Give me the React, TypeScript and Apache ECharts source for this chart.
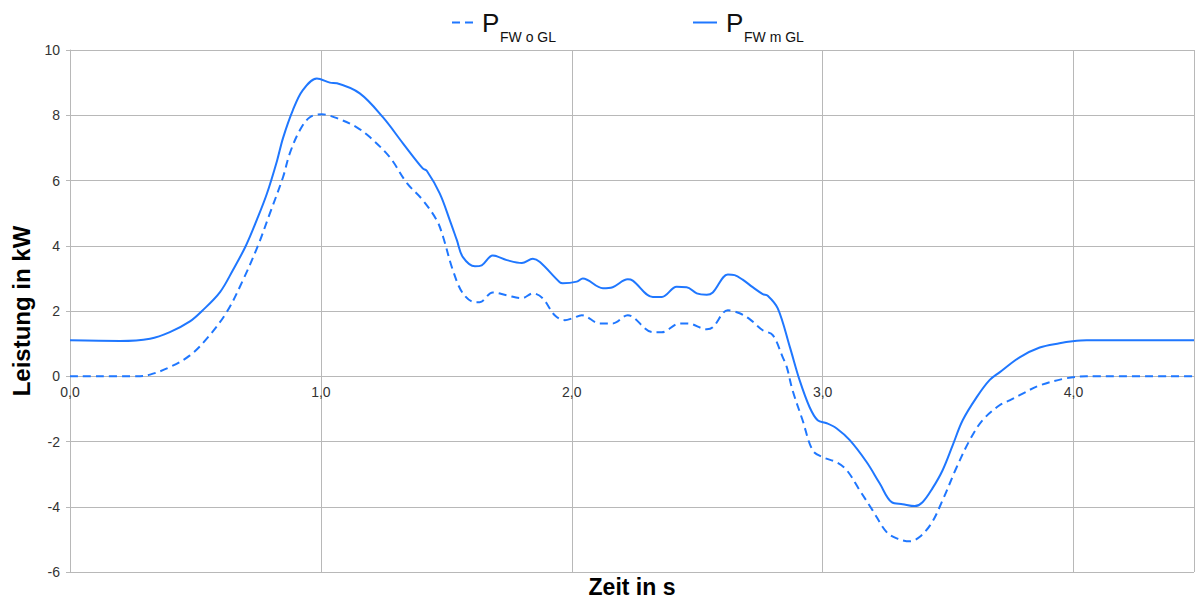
import React, { useEffect, useRef } from "react";
import * as echarts from "echarts";

const xTicks = [0, 1, 2, 3, 4];
const yTicks = [-6, -4, -2, 0, 2, 4, 6, 8, 10];

// P_FW m GL (solid): [time s, power kW]
const withGL: [number, number][] = [
  [0, 1.1], [0.2, 1.08], [0.319, 1.15], [0.398, 1.35], [0.478, 1.68], [0.526, 2.0],
  [0.598, 2.58], [0.649, 3.25], [0.701, 4.0], [0.745, 4.8], [0.785, 5.6], [0.825, 6.6],
  [0.849, 7.3], [0.888, 8.15], [0.928, 8.77], [0.984, 9.13], [1.036, 9.0], [1.064, 8.98],
  [1.155, 8.67], [1.247, 7.94], [1.327, 7.14], [1.406, 6.37], [1.422, 6.3], [1.474, 5.6],
  [1.514, 4.78], [1.542, 4.17], [1.566, 3.65], [1.614, 3.37], [1.641, 3.4], [1.685, 3.7],
  [1.741, 3.56], [1.801, 3.47], [1.845, 3.6], [1.873, 3.5], [1.952, 2.88], [1.964, 2.85],
  [2.02, 2.9], [2.044, 3.0], [2.124, 2.7], [2.163, 2.73], [2.223, 2.97], [2.243, 2.93],
  [2.323, 2.43], [2.359, 2.43], [2.418, 2.74], [2.458, 2.73], [2.498, 2.54], [2.538, 2.5],
  [2.562, 2.57], [2.622, 3.12], [2.649, 3.1], [2.681, 2.96], [2.721, 2.73], [2.761, 2.52],
  [2.781, 2.47], [2.821, 2.08], [2.869, 0.9], [2.908, -0.12], [2.948, -0.95], [2.98, -1.35],
  [3.016, -1.44], [3.056, -1.6], [3.108, -1.96], [3.175, -2.63], [3.227, -3.28], [3.275, -3.86],
  [3.319, -3.92], [3.367, -3.98], [3.398, -3.86], [3.438, -3.43], [3.478, -2.88], [3.518, -2.12],
  [3.558, -1.35], [3.614, -0.64], [3.665, -0.12], [3.705, 0.12], [3.785, 0.58], [3.865, 0.88],
  [3.944, 1.01], [3.996, 1.07], [4.052, 1.1], [4.48, 1.1],
];

// P_FW o GL (dashed): [time s, power kW]
const withoutGL: [number, number][] = [
  [0, 0], [0.279, 0], [0.319, 0.05], [0.398, 0.28], [0.478, 0.64], [0.546, 1.16],
  [0.625, 1.97], [0.689, 2.94], [0.749, 4.0], [0.797, 5.0], [0.849, 6.1], [0.876, 6.83],
  [0.916, 7.54], [0.956, 7.94], [1.004, 8.03], [1.064, 7.91], [1.143, 7.63], [1.195, 7.33],
  [1.275, 6.71], [1.343, 5.92], [1.406, 5.4], [1.462, 4.78], [1.486, 4.3], [1.526, 3.25],
  [1.566, 2.54], [1.614, 2.27], [1.633, 2.27], [1.685, 2.57], [1.741, 2.48], [1.801, 2.39],
  [1.845, 2.54], [1.884, 2.39], [1.932, 1.87], [1.972, 1.72], [2.004, 1.78], [2.04, 1.87],
  [2.112, 1.62], [2.163, 1.62], [2.223, 1.87], [2.323, 1.35], [2.359, 1.35], [2.43, 1.62],
  [2.462, 1.62], [2.538, 1.44], [2.562, 1.5], [2.622, 2.02], [2.669, 1.93], [2.709, 1.75],
  [2.761, 1.41], [2.801, 1.26], [2.841, 0.58], [2.857, 0.28], [2.88, -0.43], [2.92, -1.35],
  [2.96, -2.27], [3.0, -2.48], [3.056, -2.64], [3.096, -2.88], [3.147, -3.49], [3.199, -4.11],
  [3.255, -4.78], [3.295, -4.97], [3.347, -5.06], [3.386, -4.93], [3.434, -4.5], [3.478, -3.8],
  [3.534, -2.79], [3.586, -1.96], [3.637, -1.35], [3.705, -0.89], [3.745, -0.74], [3.785, -0.58],
  [3.865, -0.28], [3.972, -0.06], [4.052, 0], [4.48, 0],
];

const seriesNames = ["P_FW o GL", "P_FW m GL"];
const legendSubs = ["FW o GL", "FW m GL"];

const LINE_COLOR = "#1f77ff";
const GRID_COLOR = "#b8b8b8";
const FONT = "'Liberation Sans', Arial, sans-serif";

export default function App() {
  const ref = useRef<HTMLDivElement>(null);
  useEffect(() => {
    document.body.style.margin = "0";
    const chart = echarts.init(ref.current!, null, { renderer: "svg" });
    const legendItem = (x: number, dashed: boolean, sub: string) => ({
      type: "group",
      x,
      y: 0,
      children: [
        {
          type: "line",
          shape: dashed ? { x1: 0, y1: 22.5, x2: 21, y2: 22.5 } : { x1: 0, y1: 22.5, x2: 24, y2: 22.5 },
          style: { stroke: LINE_COLOR, lineWidth: 2, lineDash: dashed ? [8, 5] : null },
        },
        {
          type: "text",
          x: dashed ? 30 : 33,
          y: 23,
          style: { text: "P", fontSize: 26, fill: "#111", fontFamily: FONT, verticalAlign: "middle" },
        },
        {
          type: "text",
          x: dashed ? 48 : 51,
          y: 37,
          style: { text: sub, fontSize: 14, fill: "#111", fontFamily: FONT, verticalAlign: "middle" },
        },
      ],
    });
    chart.setOption({
      animation: false,
      backgroundColor: "#ffffff",
      textStyle: { fontFamily: FONT },
      grid: { left: 70, right: 2, top: 50, bottom: 28, containLabel: false, outerBoundsMode: "none" },
      xAxis: {
        type: "value",
        min: 0,
        max: 4.48,
        interval: 1,
        position: "bottom",
        offset: -196,
        axisLine: { onZero: false, lineStyle: { color: GRID_COLOR, width: 1 } },
        axisTick: { show: false },
        splitLine: { show: true, lineStyle: { color: GRID_COLOR, width: 1 } },
        axisLabel: {
          color: "#333",
          fontSize: 14,
          margin: 9,
          showMaxLabel: false,
          formatter: (v: number) => (xTicks.indexOf(v) >= 0 ? v.toFixed(1).replace(".", ",") : ""),
        },
      },
      yAxis: {
        type: "value",
        min: yTicks[0],
        max: yTicks[yTicks.length - 1],
        interval: 2,
        name: "Leistung in kW",
        nameLocation: "middle",
        nameGap: 36,
        nameRotate: 90,
        nameTextStyle: { fontSize: 24, fontWeight: "bold", color: "#000", fontFamily: FONT },
        axisLine: { show: true, onZero: false, lineStyle: { color: GRID_COLOR, width: 1 } },
        axisTick: { show: true, length: 4, lineStyle: { color: GRID_COLOR } },
        splitLine: { show: true, lineStyle: { color: GRID_COLOR, width: 1 } },
        axisLabel: { color: "#333", fontSize: 14, margin: 10 },
      },
      graphic: [
        legendItem(452, true, legendSubs[0]),
        legendItem(693, false, legendSubs[1]),
        {
          type: "text",
          x: 632,
          y: 587,
          style: {
            text: "Zeit in s",
            fontSize: 23,
            fontWeight: "bold",
            fill: "#000",
            fontFamily: FONT,
            align: "center",
            verticalAlign: "middle",
          },
        },
      ],
      series: [
        {
          name: seriesNames[0],
          type: "line",
          data: withoutGL,
          symbol: "none",
          smooth: 0.35,
          lineStyle: { color: LINE_COLOR, width: 2, type: [8, 5] },
          itemStyle: { color: LINE_COLOR },
        },
        {
          name: seriesNames[1],
          type: "line",
          data: withGL,
          symbol: "none",
          smooth: 0.35,
          lineStyle: { color: LINE_COLOR, width: 2, type: "solid" },
          itemStyle: { color: LINE_COLOR },
        },
      ],
    });
    return () => chart.dispose();
  }, []);
  return <div ref={ref} style={{ width: 1196, height: 600 }} />;
}
